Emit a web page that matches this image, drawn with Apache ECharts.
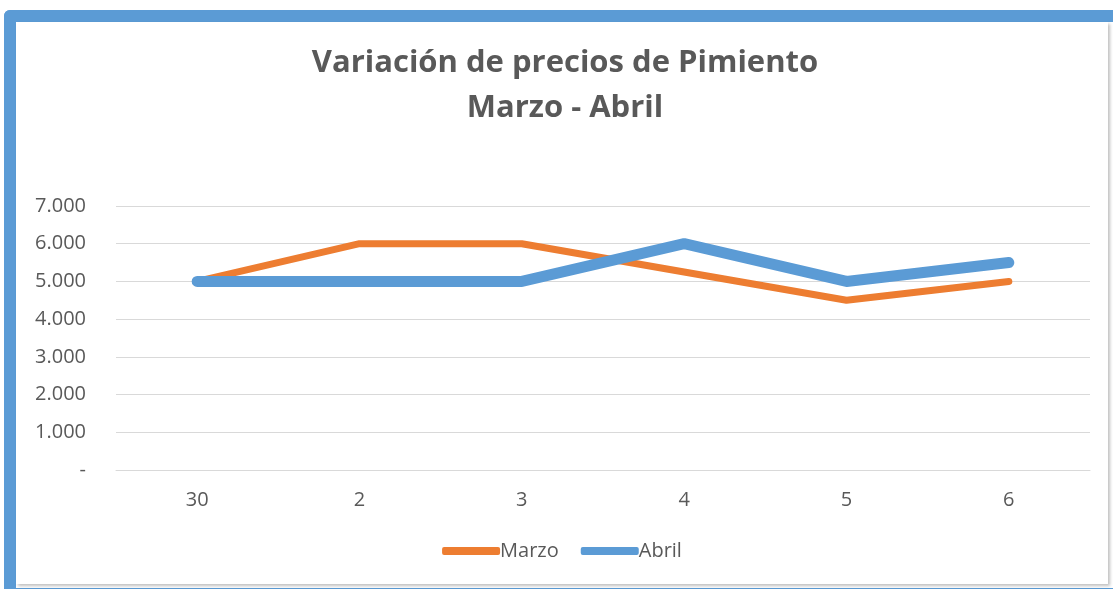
<!DOCTYPE html>
<html>
<head>
<meta charset="utf-8">
<script src="https://cdn.jsdelivr.net/npm/echarts@6/dist/echarts.min.js"></script>
<style>
  html, body { margin: 0; padding: 0; background: #fff; overflow: hidden; }
  #frame {
    position: absolute; left: 4px; top: 10px; width: 1150px; height: 590px;
    border: 12px solid #5b9bd5; border-right-width: 0; border-radius: 6px 0 0 6px; box-sizing: border-box;
  }
  #main {
    position: absolute; left: 16px; top: 22px; width: 1092px; height: 562px;
    background: #fff; box-shadow: 2px 2px 3px rgba(0,0,0,0.25);
  }
</style>
</head>
<body>
<div id="frame"></div>
<div id="main"></div>
<script>
// dias del grafico
const dias = ['30', '2', '3', '4', '5', '6'];
// precios marzo / abril
const marzo = [5000, 6000, 6000, 5250, 4500, 5000];
const abril = [5000, 5000, 5000, 6000, 5000, 5500];
const titulo = 'Variación de precios de Pimiento\nMarzo - Abril';

const fuente = '"Open Sans", "Liberation Sans", sans-serif';
const gris = '#595959';

const chart = echarts.init(document.getElementById('main'));

chart.setOption({
  animation: false,
  title: {
    text: titulo,
    left: 544,
    textAlign: 'center',
    top: 14,
    textStyle: {
      fontFamily: fuente,
      fontSize: 31,
      fontWeight: 'bold',
      color: gris,
      lineHeight: 45
    }
  },
  legend: {
    bottom: 18,
    left: 'center',
    padding: [5, 5, 5, 11],
    icon: 'roundRect',
    itemWidth: 58,
    itemHeight: 8,
    itemGap: 22,
    textStyle: { fontFamily: fuente, fontSize: 20, color: gris, padding: [0, 0, 0, -5] },
    data: ['Marzo', 'Abril']
  },
  grid: { left: 100, right: 18, top: 184, bottom: 114 },
  xAxis: {
    type: 'category',
    data: dias,
    boundaryGap: true,
    axisLine: { lineStyle: { color: '#d9d9d9' } },
    axisTick: { show: false },
    axisLabel: { fontFamily: fuente, fontSize: 20, color: gris, margin: 20 }
  },
  yAxis: {
    type: 'value',
    min: 0,
    max: 7000,
    interval: 1000,
    axisLine: { show: false },
    axisTick: { show: false },
    splitLine: { lineStyle: { color: '#d9d9d9', width: 1 } },
    axisLabel: {
      fontFamily: fuente,
      fontSize: 20,
      color: gris,
      margin: 30,
      formatter: function (v) {
        if (v === 0) return '-';
        return v.toLocaleString('de-DE');
      }
    }
  },
  series: [
    {
      name: 'Marzo',
      type: 'line',
      data: marzo,
      symbol: 'none',
      itemStyle: { color: '#ed7d31' },
      lineStyle: { color: '#ed7d31', width: 7, cap: 'round', join: 'round' }
    },
    {
      name: 'Abril',
      type: 'line',
      data: abril,
      symbol: 'none',
      itemStyle: { color: '#5b9bd5' },
      lineStyle: { color: '#5b9bd5', width: 11, cap: 'round', join: 'round' }
    }
  ]
});
</script>
</body>
</html>
